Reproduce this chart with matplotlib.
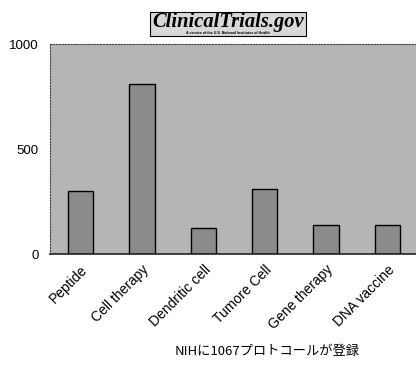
import matplotlib.pyplot as plt
from matplotlib.patches import Rectangle

# données
categories = ['Peptide', 'Cell therapy', 'Dendritic cell', 'Tumore Cell', 'Gene therapy', 'DNA vaccine']
valeurs = [300, 810, 122, 308, 138, 140]
yticks = [0, 500, 1000]

fig = plt.figure(figsize=(4.16, 3.65), dpi=100)
ax = fig.add_axes([0.120, 0.304, 0.885, 0.575])
ax.set_facecolor('#b5b5b5')

x = range(len(categories))
ax.bar(x, valeurs, width=0.41, color='#8b8b8b', edgecolor='black', linewidth=1.0)
ax.set_xlim(-0.5, len(categories) - 0.5)
ax.set_ylim(0, 1000)
ax.set_yticks(yticks)
ax.set_yticklabels([str(v) for v in yticks], fontsize=9.5, family='Liberation Sans')
ax.set_xticks(list(x))
ax.set_xticklabels(categories, rotation=45, ha='right', rotation_mode='anchor',
                   fontsize=10, family='Liberation Sans')
ax.tick_params(axis='y', length=0, pad=8)
ax.tick_params(axis='x', length=0, pad=6)

for side in ['top', 'left', 'right']:
    ax.spines[side].set_linestyle(':')
    ax.spines[side].set_color('#444444')
    ax.spines[side].set_linewidth(0.8)
ax.spines['bottom'].set_color('#222222')
ax.spines['bottom'].set_linewidth(1.2)

# logo du titre
fig.patches.append(Rectangle((150 / 416, 1 - 36 / 365), 156 / 416, 24 / 365,
                             transform=fig.transFigure, facecolor='#d8d8d8',
                             edgecolor='black', linewidth=0.8))
fig.text(228 / 416, 1 - 22 / 365, 'ClinicalTrials.gov', ha='center', va='center',
         fontsize=14.8, family='Liberation Serif', weight='bold', style='italic')
fig.text(228 / 416, 1 - 32.5 / 365, 'A service of the U.S. National Institutes of Health',
         ha='center', va='center', fontsize=2.6, family='Liberation Sans', weight='bold')

fig.text(267 / 416, 1 - 352 / 365, 'NIHに1067プロトコールが登録', ha='center', va='center',
         fontsize=9.5, family=['Noto Sans CJK JP', 'DejaVu Sans'])

fig.savefig('out.png', dpi=100)
